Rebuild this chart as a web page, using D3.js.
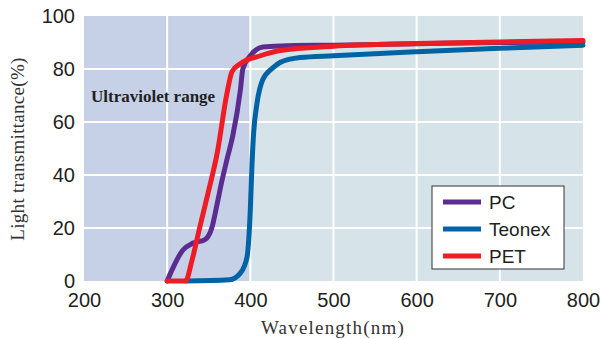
<!DOCTYPE html>
<html>
<head>
<meta charset="UTF-8">
<title>Light transmittance</title>
<script src="https://d3js.org/d3.v7.min.js"></script>
<style>
  body { margin: 0; background: #fff; }
  .tick text { font-family: "Liberation Sans", Arial, sans-serif; font-size: 20px; fill: #231f20; }
  .title { font-family: "Liberation Serif", "DejaVu Serif", serif; font-size: 19px; fill: #333; }
</style>
</head>
<body>
<svg id="chart" width="602" height="339"></svg>
<script>
// data
const xTicks = [200, 300, 400, 500, 600, 700, 800];
const yTicks = [0, 20, 40, 60, 80, 100];

const pcX = [300, 319, 331, 345, 354, 360, 366, 372, 379, 388, 391, 400, 415, 436, 500, 600, 700, 800];
const pcY = [0, 11.7, 14.3, 15.5, 20.4, 29, 38, 46, 55, 72, 80, 85, 88.3, 88.7, 89, 89.5, 90, 90.2];

const teonexX = [322, 375, 388, 396, 400, 402, 404, 408, 415, 427, 436, 460, 500, 600, 700, 800];
const teonexY = [0, 0.5, 3, 9, 27, 44, 56, 67, 76, 80.4, 82.5, 84.3, 85, 86.5, 87.8, 89];

const petX = [300, 322, 330, 339, 349, 360, 372, 378, 388, 412, 436, 500, 600, 700, 800];
const petY = [0, 0, 8, 20, 33, 48, 71, 79, 82, 85, 87, 88.6, 89.6, 90.2, 90.8];

const seriesNames = ["PC", "Teonex", "PET"];
const colors = { PC: "#5c2d91", Teonex: "#0063a6", PET: "#ee1d25" };

const series = [
  { name: "PC", pts: pcX.map((x, i) => [x, pcY[i]]) },
  { name: "Teonex", pts: teonexX.map((x, i) => [x, teonexY[i]]) },
  { name: "PET", pts: petX.map((x, i) => [x, petY[i]]) }
];

const margin = { top: 16, right: 19, bottom: 58, left: 84 };
const W = 602, H = 339;
const w = W - margin.left - margin.right;
const h = H - margin.top - margin.bottom;

const svg = d3.select("#chart");
const g = svg.append("g").attr("transform", `translate(${margin.left},${margin.top})`);

const x = d3.scaleLinear().domain([200, 800]).range([0, w]);
const y = d3.scaleLinear().domain([0, 100]).range([h, 0]);

// background: ultraviolet part and visible part
g.append("rect")
  .attr("x", x(200)).attr("y", 0)
  .attr("width", x(400) - x(200)).attr("height", h)
  .attr("fill", "#c6d1e8");
g.append("rect")
  .attr("x", x(400)).attr("y", 0)
  .attr("width", x(800) - x(400)).attr("height", h)
  .attr("fill", "#d6e4ea");

// white grid
g.selectAll(".vgrid")
  .data(xTicks.filter(d => d > 200 && d < 800))
  .enter().append("line")
  .attr("x1", d => x(d)).attr("x2", d => x(d))
  .attr("y1", 0).attr("y2", h)
  .attr("stroke", "#fff").attr("stroke-width", 2);
g.selectAll(".hgrid")
  .data(yTicks.filter(d => d > 0 && d < 100))
  .enter().append("line")
  .attr("x1", 0).attr("x2", w)
  .attr("y1", d => y(d)).attr("y2", d => y(d))
  .attr("stroke", "#fff").attr("stroke-width", 2);

// axes (labels only)
const xAxis = g.append("g")
  .attr("transform", `translate(0,${h})`)
  .call(d3.axisBottom(x).tickValues(xTicks).tickSize(0).tickPadding(12));
xAxis.select(".domain").remove();

const yAxis = g.append("g")
  .call(d3.axisLeft(y).tickValues(yTicks).tickSize(0).tickPadding(9));
yAxis.select(".domain").remove();

g.append("text")
  .attr("x", 7).attr("y", 86)
  .attr("font-family", "Liberation Serif, DejaVu Serif, serif")
  .attr("font-weight", "bold")
  .attr("font-size", 17)
  .attr("fill", "#231f20")
  .text("Ultraviolet range");

// curves
const line = d3.line()
  .x(d => x(d[0]))
  .y(d => y(d[1]))
  .curve(d3.curveMonotoneX);

g.selectAll(".curve")
  .data(series)
  .enter().append("path")
  .attr("d", d => line(d.pts))
  .attr("fill", "none")
  .attr("stroke", d => colors[d.name])
  .attr("stroke-width", 5)
  .attr("stroke-linecap", "round")
  .attr("stroke-linejoin", "round");

// legend
const lg = svg.append("g").attr("transform", "translate(432,186)");
lg.append("rect")
  .attr("width", 132).attr("height", 83)
  .attr("fill", "#fff").attr("stroke", "#333").attr("stroke-width", 1);
seriesNames.forEach((name, i) => {
  const yy = 16 + i * 27;
  lg.append("line")
    .attr("x1", 11).attr("x2", 49)
    .attr("y1", yy).attr("y2", yy)
    .attr("stroke", colors[name]).attr("stroke-width", 5);
  lg.append("text")
    .attr("x", 57).attr("y", yy)
    .attr("dy", "0.35em")
    .attr("font-family", "Liberation Sans, Arial, sans-serif")
    .attr("font-size", 19)
    .attr("fill", "#231f20")
    .text(name);
});

// axis titles
svg.append("text")
  .attr("class", "title")
  .attr("x", 333).attr("y", 334)
  .attr("text-anchor", "middle")
  .attr("letter-spacing", 1.2)
  .text("Wavelength(nm)");

svg.append("text")
  .attr("class", "title")
  .attr("transform", "translate(24,149) rotate(-90)")
  .attr("text-anchor", "middle")
  .attr("letter-spacing", 0.3)
  .text("Light transmittance(%)");
</script>
</body>
</html>
